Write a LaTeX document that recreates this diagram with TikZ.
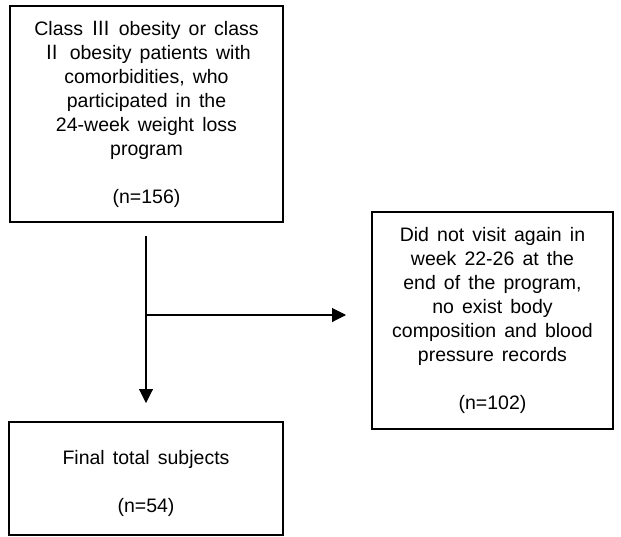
\documentclass[tikz,border=0pt]{standalone}
\usepackage{fontspec}
\setmainfont[WordSpace=1.5]{Liberation Sans}
\newfontfamily\krfont{Noto Sans CJK KR}
\usetikzlibrary{arrows.meta}

\begin{document}
\begin{tikzpicture}[x=1pt, y=-1pt,
      box/.style={draw, line width=1.3pt, align=center, inner sep=0pt,
                  font=\fontsize{19.5}{24}\selectfont},
      flow/.style={line width=1.1pt, -{Triangle[length=14pt, width=14pt]}}]
      \useasboundingbox (0, 0) rectangle (621, 536);
      \node[box, minimum width=273, minimum height=216] (cohort) at (146.5, 114)
            {Class {\krfont Ⅲ} obesity or class\\ {\krfont Ⅱ} obesity patients with\\
             comorbidities, who\\ participated in the\\ 24-week weight loss\\ program\\[24pt] (n=156)};
      \node[box, minimum width=241, minimum height=217] (dropout) at (492.5, 320.5)
            {Did not visit again in\\ week 22-26 at the\\ end of the program,\\ no exist body\\
             composition and blood\\ pressure records\\[24pt] (n=102)};
      \node[box, minimum width=274, minimum height=113] (final) at (146, 478.5)
            {\mbox{}\\ Final total subjects\\[24pt] (n=54)};
      \coordinate (top) at (146, 236);
      \coordinate (split) at (146, 315);
      \coordinate (down) at (146, 403);
      \coordinate (side) at (346, 315);
      \draw[flow] (top) -- (down);
      \draw[flow] (split) -- (side);
\end{tikzpicture}
\end{document}
